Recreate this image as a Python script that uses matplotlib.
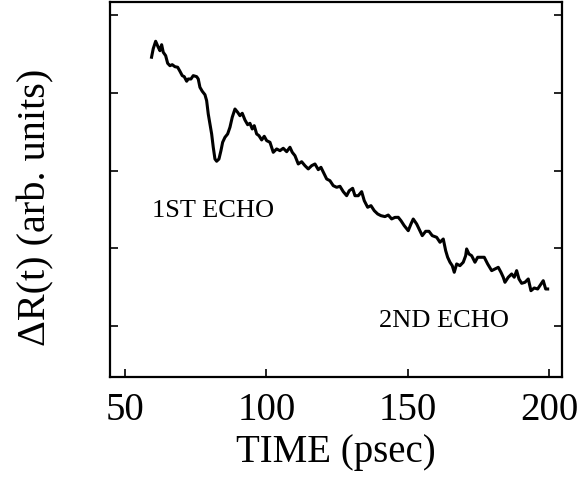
import matplotlib
matplotlib.use("Agg")
import matplotlib.pyplot as plt

# reflectivity trace (arb. units, y ticks at 1..5)
time_ps = [
    59.4, 60.0, 60.85, 61.77, 62.37, 62.97, 63.54, 64.39, 65.1, 65.91,
    66.72, 67.68, 68.64, 69.45, 70.26, 70.97, 71.82, 72.38, 73.34, 74.15,
    75.36, 75.92, 76.52, 77.34, 78.29, 78.89, 79.46, 80.06, 80.66, 81.23,
    81.83, 82.43, 83.25, 83.95, 84.55, 85.37, 86.32, 87.14, 87.95, 88.91,
    89.86, 90.67, 91.49, 92.44, 93.4, 94.21, 95.03, 95.73, 96.58, 97.4,
    98.35, 99.27, 100.12, 101.29, 102.46, 103.66, 104.83, 105.99, 107.2, 108.36,
    109.18, 110.13, 111.3, 112.5, 113.67, 114.84, 116.04, 117.21, 118.38, 119.33,
    120.5, 121.35, 122.51, 123.68, 124.88, 126.05, 127.22, 128.42, 129.34, 130.54,
    131.36, 132.53, 133.73, 134.65, 135.85, 137.02, 138.19, 139.39, 140.56, 141.97,
    143.14, 144.34, 145.51, 146.68, 147.63, 148.8, 150.21, 151.17, 151.98, 153.19,
    154.35, 155.17, 156.37, 157.54, 158.71, 160.26, 161.43, 162.6, 163.45, 164.15,
    164.97, 165.78, 166.49, 167.34, 168.5, 169.67, 170.52, 170.87, 171.69, 172.64,
    173.81, 174.77, 175.93, 177.1, 178.3, 179.72, 180.89, 182.06, 183.01, 183.82,
    184.42, 185.59, 186.79, 187.71, 188.56, 189.38, 190.33, 191.5, 192.67, 193.62,
    194.79, 195.99, 197.16, 197.97, 198.82, 199.53,
]
delta_r = [
    4.46, 4.57, 4.665, 4.588, 4.544, 4.621, 4.524, 4.48, 4.382, 4.351,
    4.364, 4.338, 4.331, 4.279, 4.223, 4.21, 4.151, 4.18, 4.18, 4.223,
    4.21, 4.18, 4.073, 4.022, 3.978, 3.901, 3.73, 3.601, 3.473, 3.302,
    3.151, 3.122, 3.151, 3.258, 3.366, 3.43, 3.473, 3.559, 3.688, 3.794,
    3.752, 3.708, 3.739, 3.653, 3.592, 3.61, 3.537, 3.58, 3.473, 3.451,
    3.396, 3.443, 3.387, 3.366, 3.237, 3.28, 3.258, 3.289, 3.245, 3.302,
    3.237, 3.194, 3.087, 3.116, 3.065, 3.023, 3.065, 3.087, 3.014, 3.044,
    2.958, 2.894, 2.872, 2.808, 2.787, 2.8, 2.731, 2.679, 2.743, 2.774,
    2.679, 2.679, 2.731, 2.615, 2.53, 2.551, 2.486, 2.444, 2.422, 2.41,
    2.43, 2.38, 2.40, 2.401, 2.358, 2.293, 2.229, 2.315, 2.379, 2.315,
    2.229, 2.165, 2.221, 2.221, 2.165, 2.144, 2.08, 2.122, 1.972, 1.887,
    1.823, 1.779, 1.694, 1.801, 1.779, 1.823, 1.907, 1.994, 1.929, 1.907,
    1.823, 1.887, 1.887, 1.887, 1.801, 1.715, 1.736, 1.758, 1.694, 1.63,
    1.565, 1.63, 1.672, 1.63, 1.715, 1.608, 1.552, 1.565, 1.608, 1.457,
    1.492, 1.479, 1.543, 1.586, 1.479, 1.479,
]

x_ticks = [50, 100, 150, 200]
y_ticks = [1, 2, 3, 4, 5]
echo_labels = ["1ST ECHO", "2ND ECHO"]
echo_pos = [(59.5, 2.42), (139.8, 1.0)]

plt.rcParams["font.family"] = ["Liberation Serif", "DejaVu Serif"]

fig = plt.figure(figsize=(5.78, 5.02), dpi=100)
ax = fig.add_axes([0.1903, 0.247, 0.782, 0.747])

ax.plot(time_ps, delta_r, color="black", linewidth=2.2)

for label, (tx, ty) in zip(echo_labels, echo_pos):
    ax.text(tx, ty, label, fontsize=19, ha="left", va="baseline")

ax.set_xlim(44.7, 204.6)
ax.set_ylim(0.347, 5.17)
ax.set_xticks(x_ticks)
ax.set_yticks(y_ticks)
ax.set_yticklabels([])
ax.tick_params(axis="x", direction="in", length=6, width=1.2,
               labelsize=28, pad=10)
ax.tick_params(axis="y", direction="in", length=6, width=1.2,
               left=True, right=True)
for sp in ax.spines.values():
    sp.set_linewidth(1.6)

ax.set_xlabel("TIME (psec)", fontsize=28, labelpad=4)
ax.set_ylabel("ΔR(t) (arb. units)", fontsize=29)
ax.yaxis.set_label_coords(-0.122, 0.456)

fig.savefig("out.png", dpi=100, facecolor="white")
